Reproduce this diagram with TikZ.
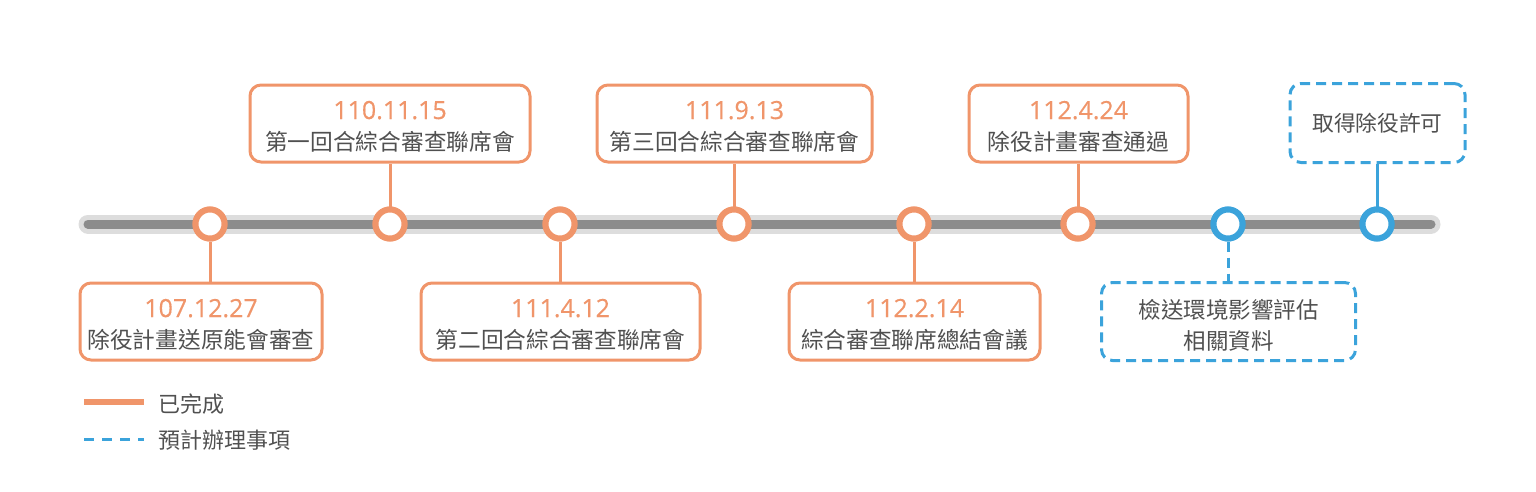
\documentclass[tikz,border=0pt]{standalone}
\usepackage{fontspec}
\setmainfont{Noto Sans CJK TC}
\newfontfamily\datefont{Open Sans}[FakeBold=0.4]
\definecolor{tlorange}{HTML}{F0956A}
\definecolor{tlblue}{HTML}{3BA3DB}
\definecolor{tltext}{HTML}{505050}
\definecolor{bardark}{HTML}{8C8C8C}
\definecolor{barlight}{HTML}{DDDDDD}
\tikzset{
  donebox/.style={draw=tlorange, line width=3pt, rounded corners=11pt, fill=white,
    minimum height=77pt, align=center, text=tltext, inner sep=0pt,
    font=\fontsize{22.7}{31}\selectfont},
  planbox/.style={draw=tlblue, line width=3pt, rounded corners=11pt, fill=white,
    dash pattern=on 10pt off 6pt, minimum height=78pt, align=center, text=tltext, inner sep=0pt,
    font=\fontsize{22.5}{31}\selectfont},
  donedot/.style={circle, draw=tlorange, line width=6pt, fill=white, minimum size=29pt, inner sep=0pt},
  plandot/.style={circle, draw=tlblue, line width=6pt, fill=white, minimum size=29pt, inner sep=0pt},
  donelink/.style={draw=tlorange, line width=3pt},
  planlink/.style={draw=tlblue, line width=3pt},
  plandash/.style={draw=tlblue, line width=3pt, dash pattern=on 10pt off 6pt},
  legendtext/.style={anchor=west, text=tltext, inner sep=0pt, font=\fontsize{22}{26}\selectfont},
}
\newcommand{\datetxt}[1]{\rule{0pt}{24pt}{\color{tlorange}\datefont\fontsize{25}{31}\selectfont #1}}
\begin{document}
\begin{tikzpicture}[x=1pt,y=-1pt]
\useasboundingbox (0,0) rectangle (1536,491);
% timeline bar
\coordinate (barL) at (88,224);
\coordinate (barR) at (1431,224);
\draw[barlight, line width=19pt, line cap=round] (barL) -- (barR);
\draw[bardark, line width=9pt, line cap=round] (barL) -- (barR);
% boxes
\node[donebox, minimum width=242pt] (bA) at (201,321.5) {\datetxt{107.12.27}\\除役計畫送原能會審查};
\node[donebox, minimum width=280pt] (bB) at (390,123.5) {\datetxt{110.11.15}\\第一回合綜合審查聯席會};
\node[donebox, minimum width=279pt] (bC) at (560.5,321.5) {\datetxt{111.4.12}\\第二回合綜合審查聯席會};
\node[donebox, minimum width=275pt] (bD) at (734.5,123.5) {\datetxt{111.9.13}\\第三回合綜合審查聯席會};
\node[donebox, minimum width=251pt] (bE) at (914.5,321.5) {\datetxt{112.2.14}\\綜合審查聯席總結會議};
\node[donebox, minimum width=219pt] (bF) at (1078.5,123.5) {\datetxt{112.4.24}\\除役計畫審查通過};
\node[planbox, minimum width=175pt, minimum height=79pt, font=\fontsize{21.7}{31}\selectfont] (bG) at (1377.5,123) {取得除役許可};
\node[planbox, minimum width=254pt] (bH) at (1228.5,321.5) {\rule{0pt}{26pt}檢送環境影響評估\\相關資料};
% dots
\node[donedot] (c1) at (210,224) {};
\node[donedot] (c2) at (390,224) {};
\node[donedot] (c3) at (560,224) {};
\node[donedot] (c4) at (734,224) {};
\node[donedot] (c5) at (914,224) {};
\node[donedot] (c6) at (1078,224) {};
\node[plandot] (c7) at (1228,224) {};
\node[plandot] (c8) at (1377,224) {};
% connectors
\draw[donelink] (c1.south) -- (c1.south |- bA.north);
\draw[donelink] (c2.north) -- (c2.north |- bB.south);
\draw[donelink] (c3.south) -- (c3.south |- bC.north);
\draw[donelink] (c4.north) -- (c4.north |- bD.south);
\draw[donelink] (c5.south) -- (c5.south |- bE.north);
\draw[donelink] (c6.north) -- (c6.north |- bF.south);
\draw[planlink] (c8.north) -- (c8.north |- bG.south);
\draw[plandash] (c7.south) -- (c7.south |- bH.north);
% redraw dots on top of connectors
\node[donedot] at (c1) {};
\node[donedot] at (c2) {};
\node[donedot] at (c3) {};
\node[donedot] at (c4) {};
\node[donedot] at (c5) {};
\node[donedot] at (c6) {};
\node[plandot] at (c7) {};
\node[plandot] at (c8) {};
% legend
\coordinate (lgA1) at (84,402);
\coordinate (lgA2) at (144,402);
\coordinate (lgB1) at (84,439);
\coordinate (lgB2) at (144,439);
\draw[tlorange, line width=6pt] (lgA1) -- (lgA2);
\draw[tlblue, line width=3pt, dash pattern=on 10pt off 8pt] (lgB1) -- (lgB2);
\node[legendtext] (lgAt) at (158,404) {已完成};
\node[legendtext] (lgBt) at (158,440) {預計辦理事項};
\end{tikzpicture}
\end{document}
